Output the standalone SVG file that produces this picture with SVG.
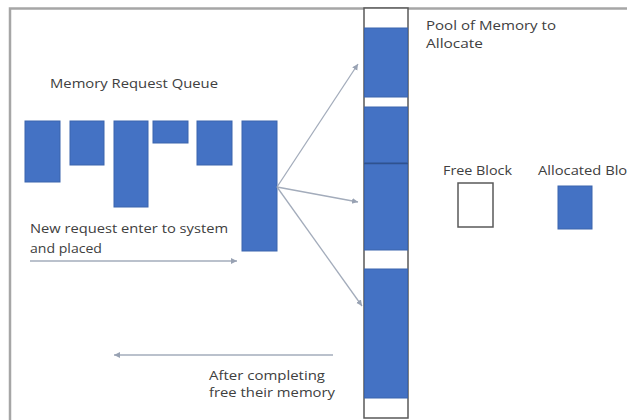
<svg xmlns="http://www.w3.org/2000/svg" width="627" height="420" viewBox="0 0 627 420">
<defs>
<style>
.blk{fill:#4472c4;stroke:#3b64ad;stroke-width:1}
.free{fill:#ffffff;stroke:#595959;stroke-width:1.5}
.t{font-family:"Open Sans","Liberation Sans",sans-serif;font-size:12.5px;fill:#404040}
.arr{stroke:#a3acbb;stroke-width:1.3;fill:none;marker-end:url(#ah)}
</style>
<marker id="ah" markerWidth="8" markerHeight="8" refX="6" refY="3" orient="auto" markerUnits="userSpaceOnUse">
<path d="M0,0 L6,3 L0,6 Z" fill="#98a2b3"/>
</marker>
</defs>
<rect width="627" height="420" fill="#ffffff"/>
<path id="frame" d="M10,420 V8.5 H627" fill="none" stroke="#a6a6a6" stroke-width="2.5"/>

<g id="queue">
<rect class="blk" x="25" y="121" width="35" height="61"/>
<rect class="blk" x="70" y="121" width="34" height="44"/>
<rect class="blk" x="114" y="121" width="34" height="86"/>
<rect class="blk" x="153" y="121" width="35" height="22"/>
<rect class="blk" x="197" y="121" width="35" height="44"/>
<rect class="blk" x="242" y="121" width="35" height="130"/>
<text class="t" x="50" y="88" textLength="168" lengthAdjust="spacingAndGlyphs">Memory Request Queue</text>
</g>

<g id="pool">
<rect class="free" x="364" y="8" width="44" height="410"/>
<rect class="blk" x="364.5" y="28" width="43" height="69"/>
<rect class="blk" x="364.5" y="107" width="43" height="56"/>
<rect class="blk" x="364.5" y="163" width="43" height="87"/>
<line x1="364" y1="163.5" x2="408" y2="163.5" stroke="#2f528f" stroke-width="1.5"/>
<rect class="blk" x="364.5" y="269" width="43" height="129"/>
<text class="t" x="426" y="30" textLength="130" lengthAdjust="spacingAndGlyphs">Pool of Memory to</text>
<text class="t" x="426" y="47.5" textLength="57" lengthAdjust="spacingAndGlyphs">Allocate</text>
</g>

<g id="legend-free">
<rect class="free" x="458" y="183" width="35" height="44"/>
<text class="t" x="443" y="175" textLength="69" lengthAdjust="spacingAndGlyphs">Free Block</text>
</g>
<g id="legend-allocated">
<rect class="blk" x="558" y="186" width="34" height="43"/>
<text class="t" x="538" y="175" textLength="104" lengthAdjust="spacingAndGlyphs">Allocated Block</text>
</g>

<g id="label-enter">
<text class="t" x="30" y="233" textLength="198" lengthAdjust="spacingAndGlyphs">New request enter to system</text>
<text class="t" x="30" y="252.5" textLength="72" lengthAdjust="spacingAndGlyphs">and placed</text>
</g>
<g id="label-free">
<text class="t" x="209" y="380" textLength="116" lengthAdjust="spacingAndGlyphs">After completing</text>
<text class="t" x="209" y="397" textLength="126" lengthAdjust="spacingAndGlyphs">free their memory</text>
</g>

<g id="connectors">
<line class="arr" x1="277" y1="187" x2="358" y2="64"/>
<line class="arr" x1="277" y1="187" x2="358" y2="202"/>
<line class="arr" x1="277" y1="187" x2="362" y2="306"/>
<line class="arr" x1="30" y1="261" x2="237" y2="261"/>
<line class="arr" x1="333" y1="355" x2="114" y2="355"/>
</g>
</svg>
